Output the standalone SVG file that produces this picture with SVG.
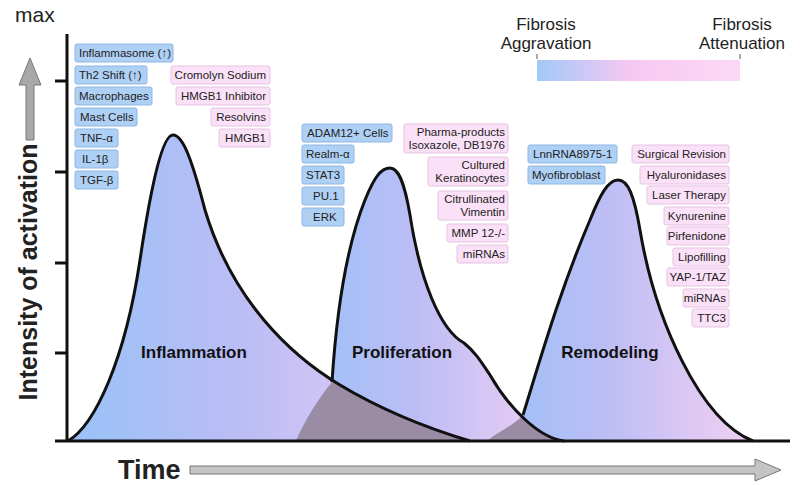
<svg xmlns="http://www.w3.org/2000/svg" width="800" height="486" viewBox="0 0 800 486">
<defs>
<linearGradient id="g" x1="0" y1="0" x2="1" y2="0"><stop offset="0" stop-color="#98c2f8"/><stop offset="0.45" stop-color="#bdbdf5"/><stop offset="1" stop-color="#f2d0f2"/></linearGradient>
<linearGradient id="lg" x1="0" y1="0" x2="1" y2="0"><stop offset="0" stop-color="#a2c8f8"/><stop offset="0.45" stop-color="#f5c8f2"/><stop offset="1" stop-color="#fcd8f6"/></linearGradient>
<path id="pI" d="M68,441 C95,425 125,360 140,260 C152,180 163,135 173,135 C183,135 192,160 205,210 C232,300 290,355 340,385 C390,415 440,432 470,441 Z"/>
<path id="pP" d="M296,441 C310,410 322,395 332,382 C336,320 345,250 365,200 C375,175 382,168 390,168 C398,168 404,180 410,215 C420,280 440,330 464,343 C475,352 480,360 490,375 C510,410 540,438 564,441 Z"/>
<path id="pR" d="M487,441 C500,430 515,425 523,415 C540,360 560,290 590,220 C600,195 608,180 618,180 C628,180 634,195 640,230 C655,320 700,420 753,441 Z"/>
<clipPath id="cI"><use href="#pI"/></clipPath>
<clipPath id="cP"><use href="#pP"/></clipPath>
</defs>
<style>
text{font-family:"Liberation Sans",Arial,sans-serif;fill:#222}
.b rect{fill:#afd0f5;stroke:#8db6e3;stroke-width:1}
.p rect{fill:#fbe1f7;stroke:#e6c3e3;stroke-width:1}
.b text,.p text{font-size:11.5px}
.p text{text-anchor:end}
.ph{font-size:17px;font-weight:bold;fill:#111}
.cs{fill:none;stroke:#111;stroke-width:3}
</style>
<g id="curves">
<use href="#pI" fill="url(#g)"/>
<use href="#pP" fill="url(#g)"/>
<use href="#pR" fill="url(#g)"/>
<use href="#pP" fill="#9b8ca6" clip-path="url(#cI)"/>
<use href="#pR" fill="#9b8ca6" clip-path="url(#cP)"/>
<path class="cs" d="M68,441 C95,425 125,360 140,260 C152,180 163,135 173,135 C183,135 192,160 205,210 C232,300 290,355 340,385 C390,415 440,432 470,441"/>
<path class="cs" d="M332,382 C336,320 345,250 365,200 C375,175 382,168 390,168 C398,168 404,180 410,215 C420,280 440,330 464,343 C475,352 480,360 490,375 C510,410 540,438 564,441"/>
<path class="cs" d="M523,415 C540,360 560,290 590,220 C600,195 608,180 618,180 C628,180 634,195 640,230 C655,320 700,420 753,441"/>
<text class="ph" x="194" y="358" text-anchor="middle">Inflammation</text>
<text class="ph" x="402" y="358" text-anchor="middle">Proliferation</text>
<text class="ph" x="610" y="358" text-anchor="middle">Remodeling</text>
</g>
<g id="axes">
<path d="M67,34 V441 M55,441 H790 M55,81 H67 M55,172 H67 M55,263 H67 M55,353 H67" stroke="#111" stroke-width="3" fill="none"/>
<text x="15" y="22" font-size="21">max</text>
<text transform="translate(37,272) rotate(-90)" font-size="25" font-weight="bold" text-anchor="middle" fill="#111">Intensity of activation</text>
<path d="M26,140 V85 H19 L30,58 L41,85 H34 V140 Z" fill="#a8a8a8" stroke="#777" stroke-width="1"/>
<text x="118" y="479" font-size="27" font-weight="bold" fill="#111">Time</text>
<path d="M190,466 H755 V459 L781,470 L755,481 V474 H190 Z" fill="#c4c4c4" stroke="#777" stroke-width="1"/>
</g>
<g id="legend">
<rect x="537" y="60" width="203" height="21" fill="url(#lg)"/>
<path d="M537,54 V59 M740,54 V59" stroke="#555"/>
<text x="546" y="30" font-size="17" text-anchor="middle">Fibrosis</text>
<text x="546" y="49" font-size="17" text-anchor="middle">Aggravation</text>
<text x="742" y="30" font-size="17" text-anchor="middle">Fibrosis</text>
<text x="742" y="49" font-size="17" text-anchor="middle">Attenuation</text>
</g>
<g id="n-infl-blue" class="b">
<rect x="75" y="44" width="98" height="18" rx="2"/><text x="79" y="57">Inflammasome (↑)</text>
<rect x="75" y="66" width="72" height="18" rx="2"/><text x="79" y="79">Th2 Shift (↑)</text>
<rect x="75" y="87" width="77" height="18" rx="2"/><text x="79" y="100">Macrophages</text>
<rect x="75" y="108" width="62" height="18" rx="2"/><text x="80" y="121">Mast Cells</text>
<rect x="75" y="129" width="43" height="18" rx="2"/><text x="80" y="142">TNF-α</text>
<rect x="75" y="150" width="43" height="18" rx="2"/><text x="82" y="163">IL-1β</text>
<rect x="75" y="171" width="43" height="18" rx="2"/><text x="80" y="184">TGF-β</text>
</g>
<g id="n-infl-pink" class="p">
<rect x="171" y="66" width="99" height="18" rx="2"/><text x="266" y="79">Cromolyn Sodium</text>
<rect x="176" y="87" width="94" height="18" rx="2"/><text x="266" y="100">HMGB1 Inhibitor</text>
<rect x="211" y="108" width="59" height="18" rx="2"/><text x="266" y="121">Resolvins</text>
<rect x="219" y="129" width="51" height="18" rx="2"/><text x="266" y="142">HMGB1</text>
</g>
<g id="n-prol-blue" class="b">
<rect x="302" y="124" width="90" height="18" rx="2"/><text x="307" y="137">ADAM12+ Cells</text>
<rect x="302" y="145" width="52" height="18" rx="2"/><text x="306" y="158">Realm-α</text>
<rect x="302" y="166" width="42" height="18" rx="2"/><text x="306" y="179">STAT3</text>
<rect x="302" y="187" width="42" height="18" rx="2"/><text x="313" y="200">PU.1</text>
<rect x="302" y="208" width="42" height="18" rx="2"/><text x="313" y="221">ERK</text>
</g>
<g id="n-prol-pink" class="p">
<rect x="404" y="124" width="104" height="29" rx="2"/><text x="505" y="136">Pharma-products</text><text x="505" y="149">Isoxazole, DB1976</text>
<rect x="428" y="157" width="80" height="29" rx="2"/><text x="505" y="169">Cultured</text><text x="505" y="182">Keratinocytes</text>
<rect x="438" y="191" width="70" height="29" rx="2"/><text x="505" y="203">Citrullinated</text><text x="505" y="216">Vimentin</text>
<rect x="447" y="224" width="61" height="18" rx="2"/><text x="505" y="237">MMP 12-/-</text>
<rect x="457" y="245" width="51" height="18" rx="2"/><text x="505" y="258">miRNAs</text>
</g>
<g id="n-rem-blue" class="b">
<rect x="528" y="145" width="89" height="18" rx="2"/><text x="533" y="158">LnnRNA8975-1</text>
<rect x="528" y="166" width="77" height="18" rx="2"/><text x="532" y="179">Myofibroblast</text>
</g>
<g id="n-rem-pink" class="p">
<rect x="632" y="145" width="97" height="18" rx="2"/><text x="726" y="158">Surgical Revision</text>
<rect x="640" y="166" width="89" height="18" rx="2"/><text x="726" y="179">Hyaluronidases</text>
<rect x="647" y="186" width="82" height="18" rx="2"/><text x="726" y="199">Laser Therapy</text>
<rect x="664" y="207" width="65" height="18" rx="2"/><text x="726" y="220">Kynurenine</text>
<rect x="667" y="227" width="62" height="18" rx="2"/><text x="726" y="240">Pirfenidone</text>
<rect x="673" y="248" width="56" height="18" rx="2"/><text x="726" y="261">Lipofilling</text>
<rect x="667" y="268" width="62" height="18" rx="2"/><text x="726" y="281">YAP-1/TAZ</text>
<rect x="683" y="289" width="46" height="18" rx="2"/><text x="726" y="302">miRNAs</text>
<rect x="692" y="309" width="37" height="18" rx="2"/><text x="726" y="322">TTC3</text>
</g>
</svg>
